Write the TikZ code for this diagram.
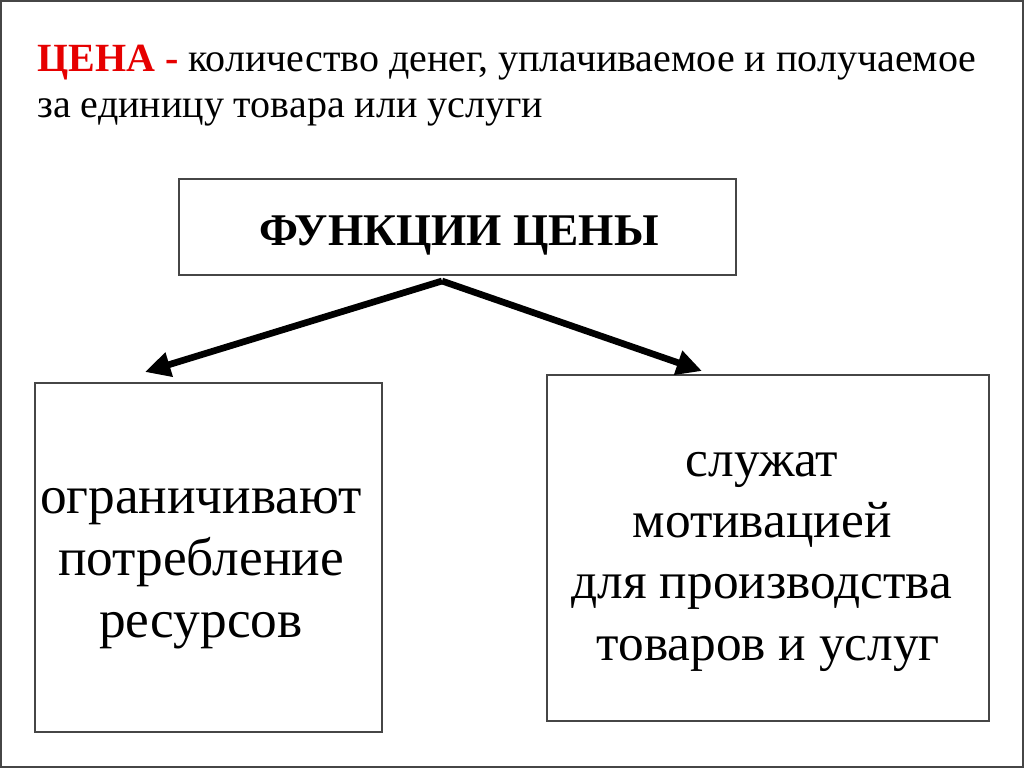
\documentclass[tikz,border=0pt]{standalone}
\usepackage{fontspec}
\setmainfont{Liberation Serif}
\usetikzlibrary{arrows.meta}
\definecolor{hred}{RGB}{230,0,0}
\definecolor{frame}{RGB}{70,70,70}
\tikzset{
  box/.style={draw=frame, line width=1.2pt},
  arr/.style={line width=5pt, -{Triangle[length=19pt,width=18pt]}},
  bodytext/.style={align=center, font=\fontsize{40}{46.5}\selectfont, inner sep=0pt},
}
\begin{document}
\begin{tikzpicture}[x=0.75pt,y=-0.75pt]
\useasboundingbox (0,0) rectangle (1024,768);
\draw[draw=frame, line width=1.5pt] (1,1) rectangle (1023,767);
% heading
\node[anchor=base west, inner sep=0pt, font=\fontsize{30}{36}\selectfont] (h1) at (37,71)
  {\textcolor{hred}{\textbf{ЦЕНА -}} количество денег, уплачиваемое и получаемое};
\node[anchor=base west, inner sep=0pt, font=\fontsize{30}{36}\selectfont] (h2) at (37,117)
  {за единицу товара или услуги};
% boxes
\draw[box] (179,179) rectangle (736,275);
\node[font=\fontsize{34}{40}\bfseries\selectfont, anchor=base, inner sep=0pt] (top) at (459,245) {ФУНКЦИИ ЦЕНЫ};
\draw[box] (35,383) rectangle (382,732);
\node[bodytext, anchor=base] (lt) at (201,637) {ограничивают\\потребление\\ресурсов};
\draw[box] (547,375) rectangle (989,721);
\node[bodytext, anchor=base, font=\fontsize{38.5}{46}\selectfont] (rt) at (762,660) {служат\\мотивацией\\для производства\\\hspace*{0.25em}товаров и услуг};
% arrows
\coordinate (fork) at (442,281);
\coordinate (ltip) at (145,372);
\coordinate (rtip) at (702,371);
\draw[arr] (fork) -- (ltip);
\draw[arr] (fork) -- (rtip);
\end{tikzpicture}
\end{document}
